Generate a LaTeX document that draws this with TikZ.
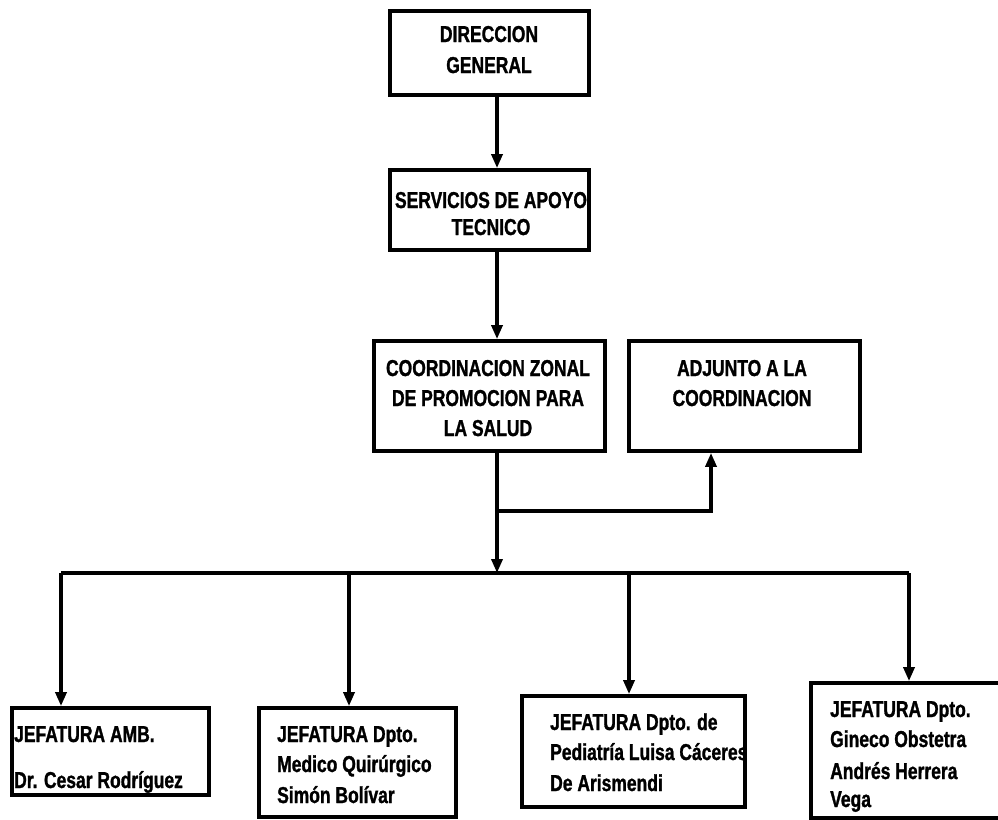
\documentclass[tikz,border=0pt]{standalone}
\usepackage{fontspec}
\setmainfont{Liberation Sans}[FakeStretch=0.76,FakeBold=1.2]
\usetikzlibrary{arrows.meta,calc}
\tikzset{
  box/.style={draw=black, line width=3.8pt, rectangle, inner sep=0pt, fill=none},
  txt/.style={inner sep=0pt, font=\fontsize{23}{27}\selectfont\bfseries, text=black},
  conn/.style={draw=black, line width=3.4pt},
  arr/.style={conn, -{Triangle[width=11pt,length=14pt]}},
}
\begin{document}
\begin{tikzpicture}[x=1pt,y=-1pt]
\clip (0,0) rectangle (998,819);
\fill[white] (0,0) rectangle (998,819);
% boxes
\node[box, minimum width=199pt, minimum height=84pt] (b1) at (489.5,53) {};
\node[box, minimum width=199pt, minimum height=80pt] (b2) at (489.5,210) {};
\node[box, minimum width=231pt, minimum height=110pt] (b3) at (489.5,396) {};
\node[box, minimum width=231pt, minimum height=110pt] (b4) at (744.5,396) {};
\node[box, minimum width=197pt, minimum height=87pt] (b5) at (110.5,751.5) {};
\node[box, minimum width=197pt, minimum height=109pt] (b6) at (357.5,762.5) {};
\node[box, minimum width=223pt, minimum height=111pt] (b7) at (633.5,751.5) {};
\node[box, minimum width=205pt, minimum height=135pt] (b8) at (913.5,750.5) {};
% texts
\node[txt, anchor=base] (t1a) at (489,42) {DIRECCION};
\node[txt, anchor=base] (t1b) at (489,73) {GENERAL};
\node[txt, anchor=base] (t2a) at (491,208) {SERVICIOS DE APOYO};
\node[txt, anchor=base] (t2b) at (491,235) {TECNICO};
\node[txt, anchor=base] (t3a) at (488,376) {COORDINACION ZONAL};
\node[txt, anchor=base] (t3b) at (488,406) {DE PROMOCION PARA};
\node[txt, anchor=base] (t3c) at (488,436) {LA SALUD};
\node[txt, anchor=base] (t4a) at (742,376) {ADJUNTO A LA};
\node[txt, anchor=base] (t4b) at (742,406) {COORDINACION};
\node[txt, anchor=base west] (t5a) at (14,742) {JEFATURA AMB.};
\node[txt, anchor=base west] (t5b) at (14,788) {Dr. Cesar Rodríguez};
\node[txt, anchor=base west] (t6a) at (277,742) {JEFATURA Dpto.};
\node[txt, anchor=base west] (t6b) at (277,772) {Medico Quirúrgico};
\node[txt, anchor=base west] (t6c) at (277,803) {Simón Bolívar};
\node[txt, anchor=base west] (t7a) at (550,730) {JEFATURA Dpto. de};
\node[txt, anchor=base west] (t7b) at (550,760) {Pediatría Luisa Cáceres};
\node[txt, anchor=base west] (t7c) at (550,791) {De Arismendi};
\node[txt, anchor=base west] (t8a) at (830,717) {JEFATURA Dpto.};
\node[txt, anchor=base west] (t8b) at (830,747) {Gineco Obstetra};
\node[txt, anchor=base west] (t8c) at (830,779) {Andrés Herrera};
\node[txt, anchor=base west] (t8d) at (830,807) {Vega};
% connectors
\coordinate (j1) at (497,511);
\coordinate (busC) at (497,573);
\coordinate (busL) at (61,573);
\coordinate (busR) at (909,573);
\coordinate (bus6) at (349,573);
\coordinate (bus7) at (629,573);
\draw[arr] (b1.south -| busC) -- (b2.north -| busC);
\draw[arr] (b2.south -| busC) -- (b3.north -| busC);
\draw[arr] (b3.south -| busC) -- (busC);
\draw[arr] (j1) -| ($(b4.south)+(-33.5,0)$);
\draw[conn] (busL) -- (busR);
\draw[arr] (busL) -- (b5.north -| busL);
\draw[arr] (bus6) -- (b6.north -| bus6);
\draw[arr] (bus7) -- (b7.north -| bus7);
\draw[arr] (busR) -- (b8.north -| busR);
\end{tikzpicture}
\end{document}
